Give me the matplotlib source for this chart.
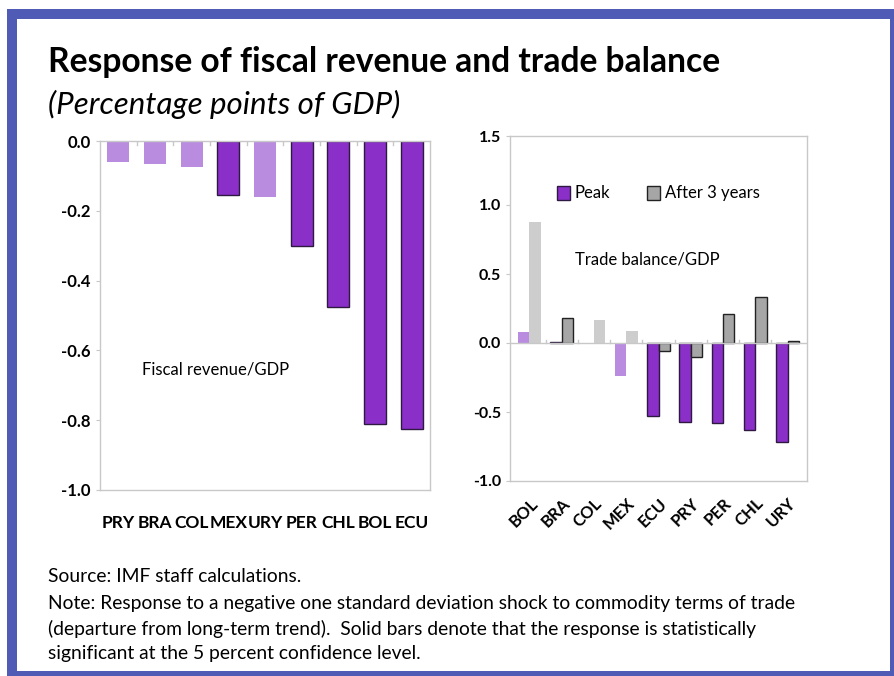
import numpy as np
import matplotlib.pyplot as plt
from matplotlib.patches import Rectangle, Patch

plt.rcParams['font.family'] = ['Lato', 'DejaVu Sans']

# fiscal revenue / GDP (left panel)
fis_names = ['PRY', 'BRA', 'COL', 'MEX', 'URY', 'PER', 'CHL', 'BOL', 'ECU']
fis_vals = [-0.06, -0.065, -0.075, -0.155, -0.16, -0.30, -0.475, -0.81, -0.825]
fis_sig = [False, False, False, True, False, True, True, True, True]

# trade balance / GDP (right panel)
tb_names = ['BOL', 'BRA', 'COL', 'MEX', 'ECU', 'PRY', 'PER', 'CHL', 'URY']
tb_peak = [0.08, 0.01, -0.005, -0.24, -0.53, -0.575, -0.58, -0.63, -0.715]
tb_peak_sig = [False, True, False, False, True, True, True, True, True]
tb_after = [0.875, 0.18, 0.17, 0.09, -0.055, -0.105, 0.21, 0.33, 0.015]
tb_after_sig = [False, True, False, False, True, True, True, True, True]

purple = '#8B2FC9'
purple_lt = '#B98CE0'
grey = '#A6A6A6'
grey_lt = '#CDCDCD'
edge = '#2E1A40'

fig = plt.figure(figsize=(8.94, 6.76), dpi=100)
W, H = 894, 676

# blue frame
fig.patches.append(Rectangle((7 / W, 0), 1 - 7 / W, 1 - 9 / H, transform=fig.transFigure,
                             facecolor='#4F5BB5', edgecolor='none', zorder=-2))
fig.patches.append(Rectangle((17 / W, 5 / H), 873 / W, 1 - 24 / H, transform=fig.transFigure,
                             facecolor='white', edgecolor='none', zorder=-1))

fig.text(48 / W, 1 - 62 / H, 'Response of fiscal revenue and trade balance', fontsize=24.2,
         fontweight='bold', va='center')
fig.text(48 / W, 1 - 104 / H, '(Percentage points of GDP)', fontsize=22.5, style='italic',
         va='center')

def frame(ax, size):
    for s in ax.spines.values():
        s.set_color('#C8C8C8')
        s.set_linewidth(1)
    ax.tick_params(axis='y', length=3, color='#C8C8C8', labelsize=size)
    for lab in ax.get_yticklabels():
        lab.set_fontweight('bold')

# left panel
ax1 = fig.add_axes([100 / W, 1 - 490 / H, 330 / W, 349 / H])
x1 = np.arange(len(fis_names))
for i in x1:
    if fis_sig[i]:
        ax1.bar(i, fis_vals[i], 0.6, color=purple, edgecolor=edge, linewidth=1)
    else:
        ax1.bar(i, fis_vals[i], 0.6, color=purple_lt, edgecolor='none')
ax1.set_ylim(-1.0, 0.0)
ax1.set_xlim(-0.5, len(fis_names) - 0.5)
ax1.set_yticks([0.0, -0.2, -0.4, -0.6, -0.8, -1.0])
ax1.set_yticklabels(['0.0', '-0.2', '-0.4', '-0.6', '-0.8', '-1.0'])
ax1.set_xticks(x1)
ax1.set_xticklabels(fis_names, fontsize=12.5, fontweight='bold')
ax1.tick_params(axis='x', length=0, pad=18)
for k in x1[:-1]:
    ax1.plot([k + 0.5, k + 0.5], [0, -0.012], color='#C8C8C8', lw=1)
ax1.text(0.65, -0.67, 'Fiscal revenue/GDP', fontsize=12)
frame(ax1, 12)

# right panel
ax2 = fig.add_axes([510 / W, 1 - 481 / H, 297 / W, 345 / H])
x2 = np.arange(len(tb_names))
bw = 0.35
for i in x2:
    if tb_peak_sig[i]:
        ax2.bar(i - bw / 2, tb_peak[i], bw, color=purple, edgecolor=edge, linewidth=1)
    else:
        ax2.bar(i - bw / 2, tb_peak[i], bw, color=purple_lt, edgecolor='none')
    if tb_after_sig[i]:
        ax2.bar(i + bw / 2, tb_after[i], bw, color=grey, edgecolor='#222222', linewidth=1)
    else:
        ax2.bar(i + bw / 2, tb_after[i], bw, color=grey_lt, edgecolor='none')
ax2.axhline(0, color='#C8C8C8', lw=1)
for k in x2[:-1]:
    ax2.plot([k + 0.5, k + 0.5], [0, 0.025], color='#C8C8C8', lw=1)
ax2.set_ylim(-1.0, 1.5)
ax2.set_xlim(-0.6, len(tb_names) - 0.4)
ax2.set_yticks([1.5, 1.0, 0.5, 0.0, -0.5, -1.0])
ax2.set_yticklabels(['1.5', '1.0', '0.5', '0.0', '-0.5', '-1.0'])
ax2.set_xticks(x2)
ax2.set_xticklabels(tb_names, fontsize=12, fontweight='bold', rotation=45,
                    ha='right', rotation_mode='anchor')
ax2.tick_params(axis='x', length=0, pad=10)
ax2.text(1.4, 0.57, 'Trade balance/GDP', fontsize=12)
leg = ax2.legend(handles=[Patch(facecolor=purple, edgecolor=edge, label='Peak'),
                          Patch(facecolor=grey, edgecolor='#222222', label='After 3 years')],
                 loc='upper center', bbox_to_anchor=(0.5, 0.9), ncol=2, frameon=False,
                 fontsize=12, handlelength=0.8, handleheight=0.9, handletextpad=0.3,
                 columnspacing=2.2)
frame(ax2, 11.5)

note = 13.9
fig.text(48 / W, 1 - 577 / H, 'Source: IMF staff calculations.', fontsize=note, va='center')
fig.text(48 / W, 1 - 604 / H,
         'Note: Response to a negative one standard deviation shock to commodity terms of trade',
         fontsize=note, va='center')
fig.text(48 / W, 1 - 629 / H,
         '(departure from long-term trend).  Solid bars denote that the response is statistically',
         fontsize=note, va='center')
fig.text(48 / W, 1 - 653 / H, 'significant at the 5 percent confidence level.', fontsize=note,
         va='center')

plt.savefig('out.png', dpi=100)
